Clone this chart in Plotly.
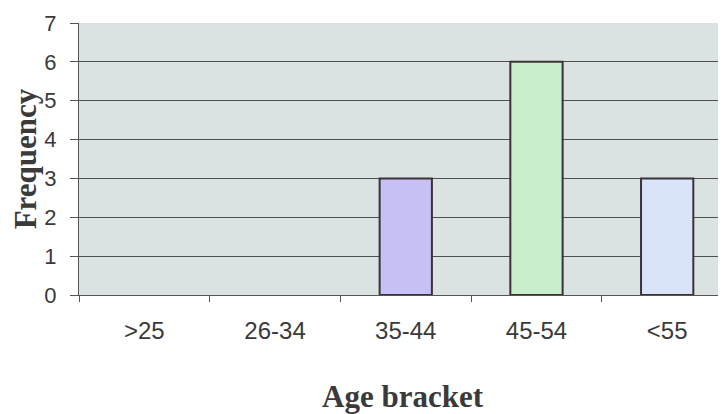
import plotly.graph_objects as go

categories = [">25", "26-34", "35-44", "45-54", "<55"]
frequency = [0, 0, 3, 6, 3]
bar_colors = ["#c9c2f5", "#c9c2f5", "#c6c0f4", "#c9eecb", "#d9e4fa"]
y_ticks = [0, 1, 2, 3, 4, 5, 6, 7]

outline_widths = [2 if v > 0 else 0 for v in frequency]

fig = go.Figure()
fig.add_trace(go.Bar(
    x=categories, y=frequency,
    width=0.4,
    marker=dict(color=bar_colors, line=dict(color="#3b3238", width=outline_widths)),
))

fig.update_layout(
    width=718, height=406,
    margin=dict(l=71, r=0, t=15, b=119),
    paper_bgcolor="white",
    plot_bgcolor="#dae3e1",
    showlegend=False,
    font=dict(family="Liberation Sans, Arial, sans-serif", size=22, color="#3a3a3a"),
)
fig.update_xaxes(
    type="category",
    range=[-0.5, 4.45],
    automargin=False,
    tickson="boundaries",
    ticks="outside", ticklen=6, tickcolor="#555555",
    showline=True, linecolor="#555555", linewidth=1,
    showgrid=False,
    tickfont=dict(size=24),
    ticklabelstandoff=14,
    title=dict(text="<b>Age bracket</b>", font=dict(family="Liberation Serif, Times New Roman, serif", size=31, color="#3a3a3a"), standoff=53),
)
fig.update_yaxes(
    range=[0, 7],
    automargin=False,
    tickvals=y_ticks,
    ticks="outside", ticklen=8, tickcolor="#555555",
    showline=True, linecolor="#555555", linewidth=1,
    showgrid=True, gridcolor="#4f4f4f", gridwidth=1,
    zeroline=False,
    tickfont=dict(size=22),
    ticklabelstandoff=9,
    title=dict(text="<b>Frequency</b>", font=dict(family="Liberation Serif, Times New Roman, serif", size=31, color="#3a3a3a"), standoff=13),
)

fig.write_html("out.html")
